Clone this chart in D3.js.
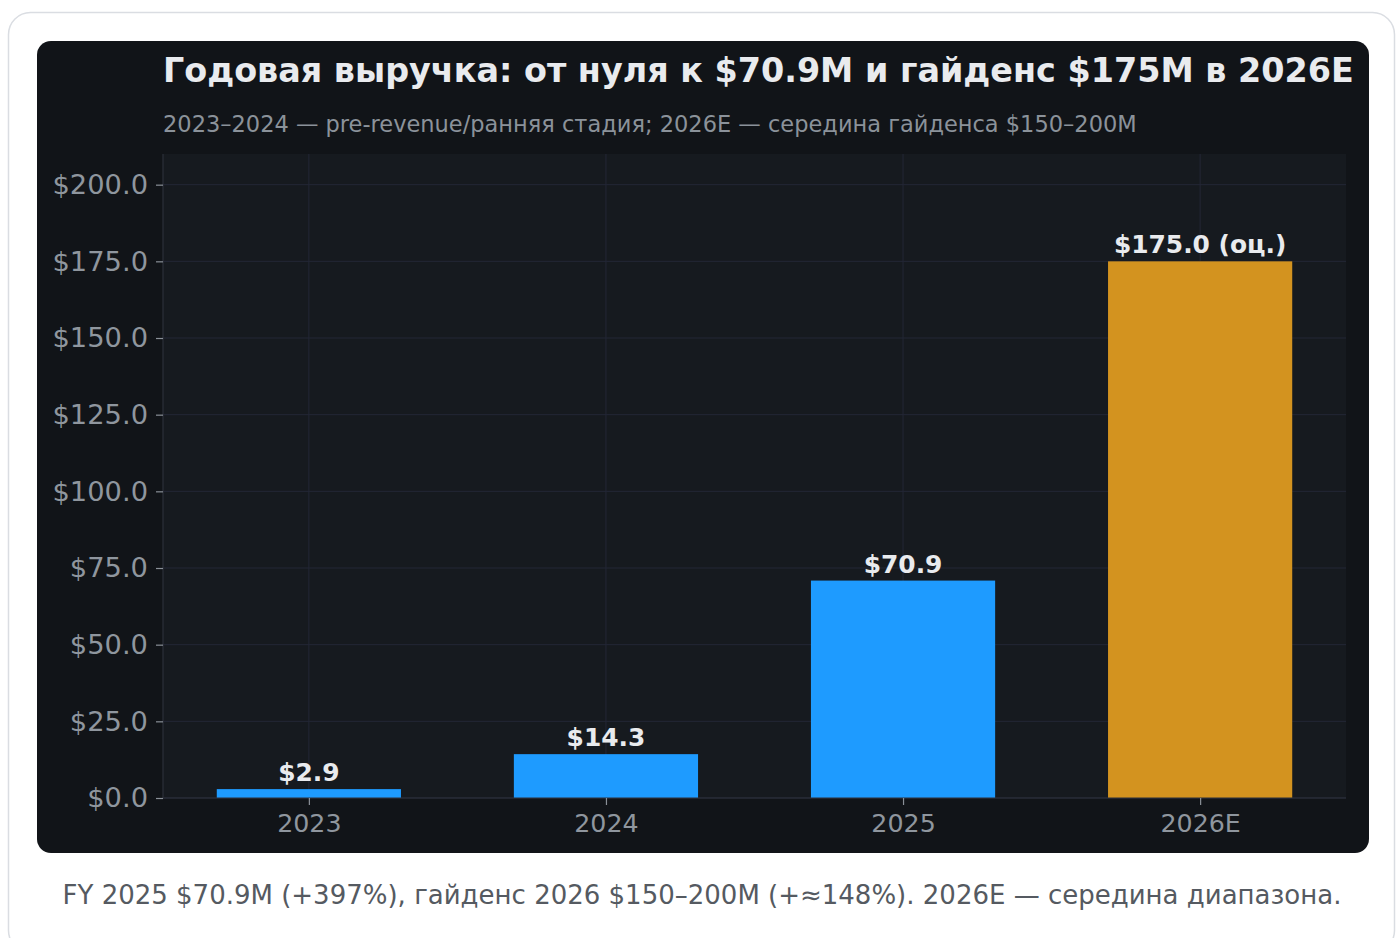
<!DOCTYPE html>
<html><head><meta charset="utf-8">
<script src="https://cdn.jsdelivr.net/npm/d3@7"></script>
<style>
html,body{margin:0;padding:0;background:#fff;}
body{width:1396px;height:938px;overflow:hidden;font-family:"DejaVu Sans",sans-serif;}
</style></head>
<body>
<svg id="c" width="1396" height="938"></svg>
<script>
const categories = ["2023", "2024", "2025", "2026E"];
const revenue = [2.9, 14.3, 70.9, 175.0];
const isEstimate = [false, false, false, true];
const valueLabels = ["$2.9", "$14.3", "$70.9", "$175.0 (оц.)"];
const yTicks = [0, 25, 50, 75, 100, 125, 150, 175, 200];
const titleText = "Годовая выручка: от нуля к $70.9M и гайденс $175M в 2026E";
const subtitleText = "2023–2024 — pre-revenue/ранняя стадия; 2026E — середина гайденса $150–200M";
const captionText = "FY 2025 $70.9M (+397%), гайденс 2026 $150–200M (+≈148%). 2026E — середина диапазона.";

const svg = d3.select("#c");
// outer card
svg.append("rect").attr("x", 8.5).attr("y", 12.5).attr("width", 1386).attr("height", 940)
  .attr("rx", 22).attr("fill", "#fff").attr("stroke", "#dadde2").attr("stroke-width", 1.5);
// dark panel
svg.append("rect").attr("x", 37).attr("y", 41).attr("width", 1332).attr("height", 812)
  .attr("rx", 14).attr("fill", "#111418");

const L = 163, R = 1346, T = 154, B = 798;
const barW = 0.62;
const x = d3.scaleLinear().domain([-0.491, 3.491]).range([L, R]);
const y = d3.scaleLinear().domain([0, 210]).range([B, T]);

svg.append("rect").attr("x", L).attr("y", T).attr("width", R - L).attr("height", B - T).attr("fill", "#161a1f");

const g = svg.append("g");
// grid
g.selectAll(".hg").data(yTicks).join("line")
  .attr("x1", L).attr("x2", R).attr("y1", d => y(d)).attr("y2", d => y(d))
  .attr("stroke", "#232736").attr("stroke-width", 1);
g.selectAll(".vg").data(categories).join("line")
  .attr("x1", (d, i) => x(i)).attr("x2", (d, i) => x(i)).attr("y1", T).attr("y2", B)
  .attr("stroke", "#232736").attr("stroke-width", 1);

// bars
g.selectAll(".bar").data(revenue).join("rect")
  .attr("x", (d, i) => x(i - barW / 2)).attr("width", (d, i) => x(i + barW / 2) - x(i - barW / 2))
  .attr("y", d => y(d)).attr("height", d => B - y(d))
  .attr("fill", (d, i) => isEstimate[i] ? "#d3931f" : "#1e9bff");

// spines
g.append("line").attr("x1", L).attr("x2", L).attr("y1", T).attr("y2", B).attr("stroke", "#2c303a").attr("stroke-width", 1.2);
g.append("line").attr("x1", L).attr("x2", R).attr("y1", B).attr("y2", B).attr("stroke", "#2c303a").attr("stroke-width", 1.2);

// y axis
const yAxis = d3.axisLeft(y).tickValues(yTicks).tickSize(7).tickPadding(8).tickFormat(d => "$" + d3.format(".1f")(d));
const ya = svg.append("g").attr("transform", `translate(${L},0)`).call(yAxis);
ya.select(".domain").remove();
ya.selectAll(".tick line").attr("stroke", "#8a9098").attr("stroke-width", 1.2);
ya.selectAll(".tick text").attr("fill", "#8f969e").attr("font-size", 27.3).attr("font-family", "DejaVu Sans");

// x axis
const xAxis = d3.axisBottom(x).tickValues(d3.range(categories.length)).tickSize(7).tickPadding(9).tickFormat(i => categories[i]);
const xa = svg.append("g").attr("transform", `translate(0,${B})`).call(xAxis);
xa.select(".domain").remove();
xa.selectAll(".tick line").attr("stroke", "#8a9098").attr("stroke-width", 1.2);
xa.selectAll(".tick text").attr("fill", "#8f969e").attr("font-size", 25.3).attr("font-family", "DejaVu Sans");

// value labels
g.selectAll(".vl").data(revenue).join("text")
  .attr("x", (d, i) => x(i)).attr("y", d => y(d) - 8)
  .attr("text-anchor", "middle").attr("font-weight", "bold").attr("font-size", 24.9)
  .attr("fill", "#e9ebee").text((d, i) => valueLabels[i]);

// titles
svg.append("text").attr("x", L).attr("y", 82).attr("font-weight", "bold").attr("font-size", 33.4)
  .attr("fill", "#e9ebee").text(titleText);
svg.append("text").attr("x", L).attr("y", 132).attr("font-size", 22.5)
  .attr("fill", "#8b929a").text(subtitleText);

// caption
svg.append("text").attr("x", 702).attr("y", 904).attr("text-anchor", "middle").attr("font-size", 26)
  .attr("fill", "#555a61").text(captionText);
</script>
</body></html>
